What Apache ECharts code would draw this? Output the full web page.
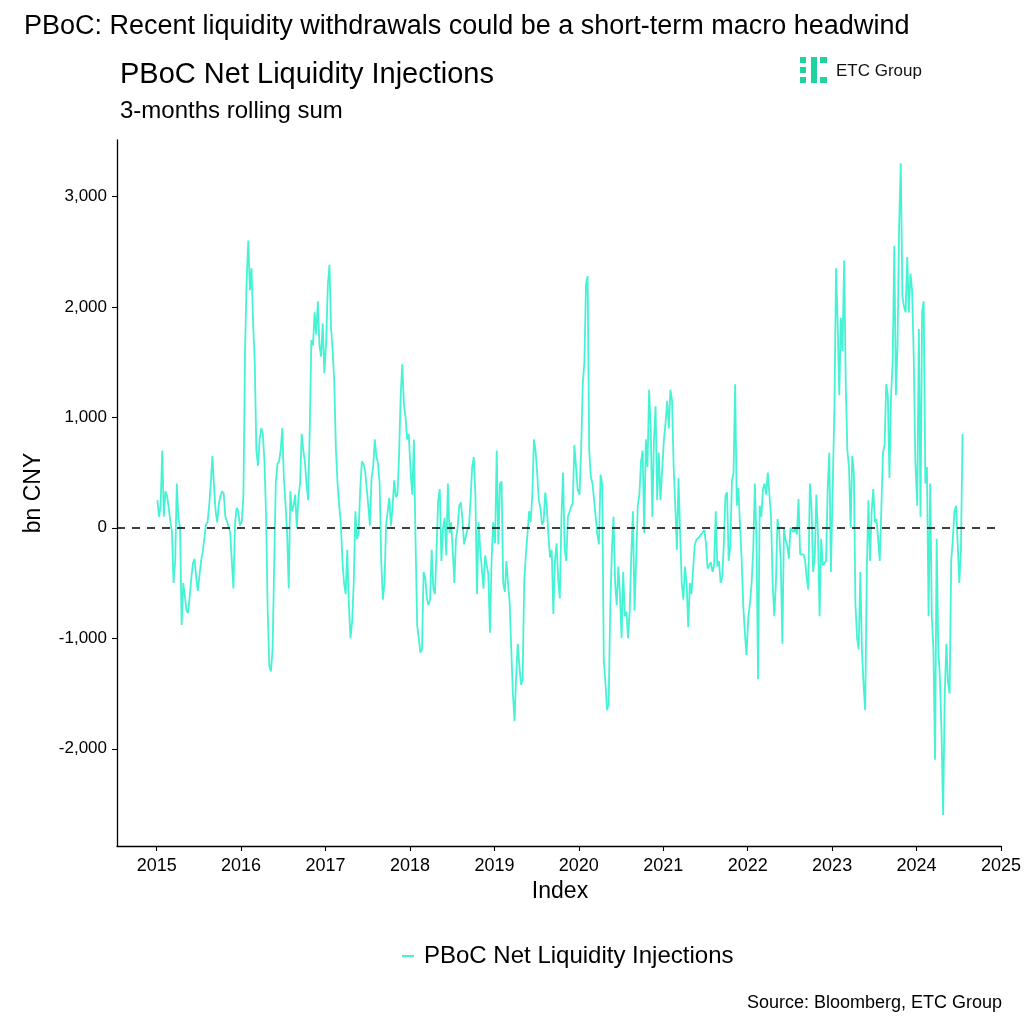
<!DOCTYPE html>
<html>
<head>
<meta charset="utf-8">
<script src="https://cdn.jsdelivr.net/npm/echarts@6/dist/echarts.min.js"></script>
<style>
html, body { margin: 0; padding: 0; background: #fff; }
#chart { width: 1024px; height: 1024px; }
</style>
</head>
<body>
<div id="chart"></div>
<script>
// weekly readings of the 3-month rolling sum, bn CNY, one array per year
var years = [2015, 2016, 2017, 2018, 2019, 2020, 2021, 2022, 2023, 2024];
var liq2015 = [250,100,200,700,100,330,290,180,60,-40,-500,-300,400,90,0,-880,-500,-620,-750,-770,-620,-450,-320,-280,-450,-570,-560,-300,-220,-100,30,50,200,400,650,380,150,50,220,290,330,310,100,60,50,-40,-300,-550,40,180,150,20];
var liq2016 = [60,300,1600,2250,2600,2150,2350,1850,1500,700,560,800,900,850,600,100,-750,-1250,-1300,-1100,-350,400,580,600,700,900,450,220,-50,-550,330,150,200,300,0,280,400,850,700,600,400,250,900,1700,1650,1950,1750,2050,1650,1550,1850,1400];
var liq2017 = [1700,2200,2380,1800,1600,1300,700,400,200,50,-300,-500,-600,-200,-700,-1000,-850,-500,150,-100,-50,350,600,580,520,360,200,20,450,550,800,650,580,400,-300,-650,-500,30,150,270,20,190,430,280,300,650,1200,1480,1120,1000,800,850];
var liq2018 = [500,300,800,-100,-880,-1000,-1130,-1100,-400,-450,-640,-700,-650,-200,-550,-600,-200,250,350,-300,0,90,-250,400,-50,50,-200,-500,-100,0,200,230,80,-150,-150,-20,10,250,550,640,300,-600,50,-200,-200,-550,-250,-340,-420,-950,-300,50];
var liq2019 = [-140,700,-150,400,420,-500,-580,-300,-500,-680,-1100,-1500,-1750,-1350,-1050,-1250,-1420,-1380,-480,-250,-60,150,50,300,800,700,500,250,180,30,60,320,180,-80,-270,-200,-780,-300,-140,-470,-640,100,500,-200,-300,100,90,190,220,750,760,350];
var liq2020 = [300,700,1300,1500,2200,2280,700,460,400,390,100,-60,-150,480,400,-1200,-1400,-1650,-1600,-720,-200,100,-500,-700,-350,-600,-1000,-400,-800,-760,-1000,-750,-250,150,-750,-300,200,300,600,700,-50,800,550,1250,900,100,800,1100,250,680,250,500];
var liq2021 = [800,950,1150,900,1250,1150,550,200,-200,450,-50,-500,-650,-350,-500,-900,-500,-600,-380,-160,-110,-100,-80,-90,-40,-20,-150,-370,-340,-310,-400,-340,150,-350,-300,-500,-450,-150,290,320,-300,-170,420,500,1300,200,360,30,-280,-700,-950,-1150];
var liq2022 = [-800,-680,-500,-200,400,-100,-1370,200,100,350,400,300,500,500,100,-500,-800,-500,80,-20,-300,-1050,0,-110,-160,-280,0,0,-40,0,-60,260,-240,-240,-240,-290,-450,-560,400,200,-400,-270,300,-50,-800,-100,-340,-340,-300,350,680,-400];
var liq2023 = [-400,1100,2350,1850,1200,1900,1600,2420,1300,700,550,0,650,500,-700,-1000,-1100,-400,-1100,-1420,-1650,-400,250,-300,150,350,50,80,-100,-300,170,680,750,1300,1200,450,1200,1500,2550,1200,1650,2750,3300,2100,2000,1950,2450,1950,2300,2150,1550,600];
var liq2024 = [200,1800,100,1950,2050,400,550,-800,400,-800,-1100,-2100,-100,-1100,-1350,-1850,-2600,-1500,-1050,-1400,-1500,-300,-100,150,200,-150,-500,-200,850];
var yearBlocks = [liq2015, liq2016, liq2017, liq2018, liq2019, liq2020, liq2021, liq2022, liq2023, liq2024];

var xTicks = [2015, 2016, 2017, 2018, 2019, 2020, 2021, 2022, 2023, 2024, 2025];
var yTicks = [-2000, -1000, 0, 1000, 2000, 3000];

var seriesName = 'PBoC Net Liquidity Injections';
var lineColor = '#44f3d3';
var sans = "'Liberation Sans', Arial, sans-serif";
var xMin = 2014.53, xMax = 2025.0;

// x as decimal year: block start + 7 days per reading
var points = [];
for (var i = 0; i < years.length; i++) {
  for (var w = 0; w < yearBlocks[i].length; w++) {
    points.push([years[i] + (7 * w + 3) / 365.25, yearBlocks[i][w]]);
  }
}

function thousands(v) {
  return v.toString().replace(/\B(?=(\d{3})+(?!\d))/g, ',');
}

var myChart = echarts.init(document.getElementById('chart'), null, { renderer: 'canvas' });

var option = {
  animation: false,
  backgroundColor: '#ffffff',
  grid: { left: 117, right: 22, top: 140, bottom: 178, containLabel: false },
  title: [
    {
      text: 'PBoC: Recent liquidity withdrawals could be a short-term macro headwind',
      left: 19, top: 8,
      textStyle: { fontFamily: sans, fontSize: 27, fontWeight: 'normal', color: '#000' }
    },
    {
      text: 'PBoC Net Liquidity Injections',
      left: 115, top: 55,
      textStyle: { fontFamily: sans, fontSize: 29, fontWeight: 'normal', color: '#000' }
    },
    {
      text: '3-months rolling sum',
      left: 115, top: 94,
      textStyle: { fontFamily: sans, fontSize: 24, fontWeight: 'normal', color: '#000' }
    }
  ],
  legend: {
    data: [seriesName],
    left: 397, top: 939,
    icon: 'rect',
    itemWidth: 12, itemHeight: 2,
    itemGap: 10,
    textStyle: { fontFamily: sans, fontSize: 24, color: '#000', padding: [0, 0, 0, 5] }
  },
  xAxis: {
    type: 'value',
    min: xMin,
    max: xMax,
    axisLine: { show: true, onZero: false, lineStyle: { color: '#000', width: 1.3 } },
    axisTick: { show: true, length: 5, lineStyle: { color: '#000', width: 1.1 }, customValues: xTicks },
    axisLabel: {
      customValues: xTicks,
      fontFamily: sans, fontSize: 18, color: '#000', margin: 11,
      formatter: function (v) { return String(Math.round(v)); }
    },
    splitLine: { show: false }
  },
  yAxis: {
    type: 'value',
    min: -2880,
    max: 3510,
    axisLine: { show: true, onZero: false, lineStyle: { color: '#000', width: 1.3 } },
    axisTick: { show: true, length: 5, lineStyle: { color: '#000', width: 1.1 }, customValues: yTicks },
    axisLabel: {
      customValues: yTicks,
      fontFamily: sans, fontSize: 17, color: '#000', margin: 10,
      formatter: function (v) { return thousands(v); }
    },
    splitLine: { show: false }
  },
  series: [
    {
      name: seriesName,
      type: 'line',
      data: points,
      showSymbol: false,
      symbol: 'none',
      lineStyle: { color: lineColor, width: 1.8 },
      itemStyle: { color: lineColor },
      markLine: {
        silent: true,
        symbol: ['none', 'none'],
        label: { show: false },
        lineStyle: { color: '#000', type: [8, 7], width: 1.6 },
        data: [[{ coord: [xMin, 0] }, { coord: [xMax, 0] }]]
      }
    }
  ],
  graphic: [
    // ETC Group logo
    { type: 'rect', shape: { x: 800, y: 57, width: 6, height: 6 }, style: { fill: '#1fd3a0' } },
    { type: 'rect', shape: { x: 800, y: 67, width: 6, height: 6 }, style: { fill: '#1fd3a0' } },
    { type: 'rect', shape: { x: 800, y: 77, width: 6, height: 6 }, style: { fill: '#1fd3a0' } },
    { type: 'rect', shape: { x: 811, y: 57, width: 6, height: 26 }, style: { fill: '#1fd3a0' } },
    { type: 'rect', shape: { x: 820, y: 57, width: 7, height: 6 }, style: { fill: '#1fd3a0' } },
    { type: 'rect', shape: { x: 820, y: 77, width: 7, height: 6 }, style: { fill: '#1fd3a0' } },
    {
      type: 'text', x: 836, y: 71,
      style: { text: 'ETC Group', fontFamily: sans, fontSize: 17, fill: '#111', verticalAlign: 'middle' }
    },
    {
      type: 'text', x: 34, y: 493, rotation: Math.PI / 2,
      style: { text: 'bn CNY', fontFamily: sans, fontSize: 23, fill: '#000', align: 'center', verticalAlign: 'middle' }
    },
    {
      type: 'text', x: 560, y: 892,
      style: { text: 'Index', fontFamily: sans, fontSize: 23, fill: '#000', align: 'center', verticalAlign: 'middle' }
    },
    {
      type: 'text', x: 1002, y: 1003,
      style: { text: 'Source: Bloomberg, ETC Group', fontFamily: sans, fontSize: 18, fill: '#000', align: 'right', verticalAlign: 'middle' }
    }
  ]
};

myChart.setOption(option);
</script>
</body>
</html>
